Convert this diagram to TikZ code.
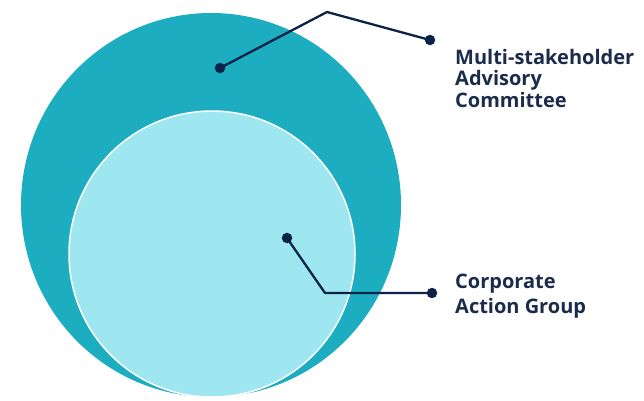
\documentclass[tikz,border=0pt]{standalone}
\usepackage{fontspec}
\setmainfont{Open Sans}
\definecolor{outerteal}{HTML}{1DADC0}
\definecolor{innerlight}{HTML}{9EE6F0}
\definecolor{navy}{HTML}{0C2348}
\definecolor{textnavy}{HTML}{1B2B4B}
\tikzset{
  dotnode/.style={circle,fill=navy,inner sep=0pt,minimum size=10.5pt},
  leader/.style={draw=navy,line width=2.3pt,line join=round},
  label text/.style={anchor=base west,align=left,text=textnavy,inner sep=0pt}
}
\begin{document}
\begin{tikzpicture}[x=1pt,y=-1pt]
\useasboundingbox (0,0) rectangle (644,400);
\fill[outerteal] (211,205) ellipse [x radius=190, y radius=192];
\filldraw[fill=innerlight,draw=white,line width=1.5pt] (212,254) ellipse [x radius=143, y radius=143];
\node[dotnode] (d1) at (220,68) {};
\node[dotnode] (d2) at (430,40) {};
\coordinate (c1) at (327,12);
\node[dotnode] (d3) at (287,238) {};
\node[dotnode] (d4) at (432,293) {};
\coordinate (c2) at (325,293);
\draw[leader] (d1.center) -- (c1) -- (d2.center);
\draw[leader] (d3.center) -- (c2) -- (d4.center);
\node[label text,font=\bfseries\fontsize{20}{21.5}\selectfont] (t1) at (455,107) {Multi-stakeholder\\Advisory\\Committee};
\node[label text,font=\bfseries\fontsize{20}{25}\selectfont] (t2) at (455,313) {Corporate\\Action Group};
\end{tikzpicture}
\end{document}
